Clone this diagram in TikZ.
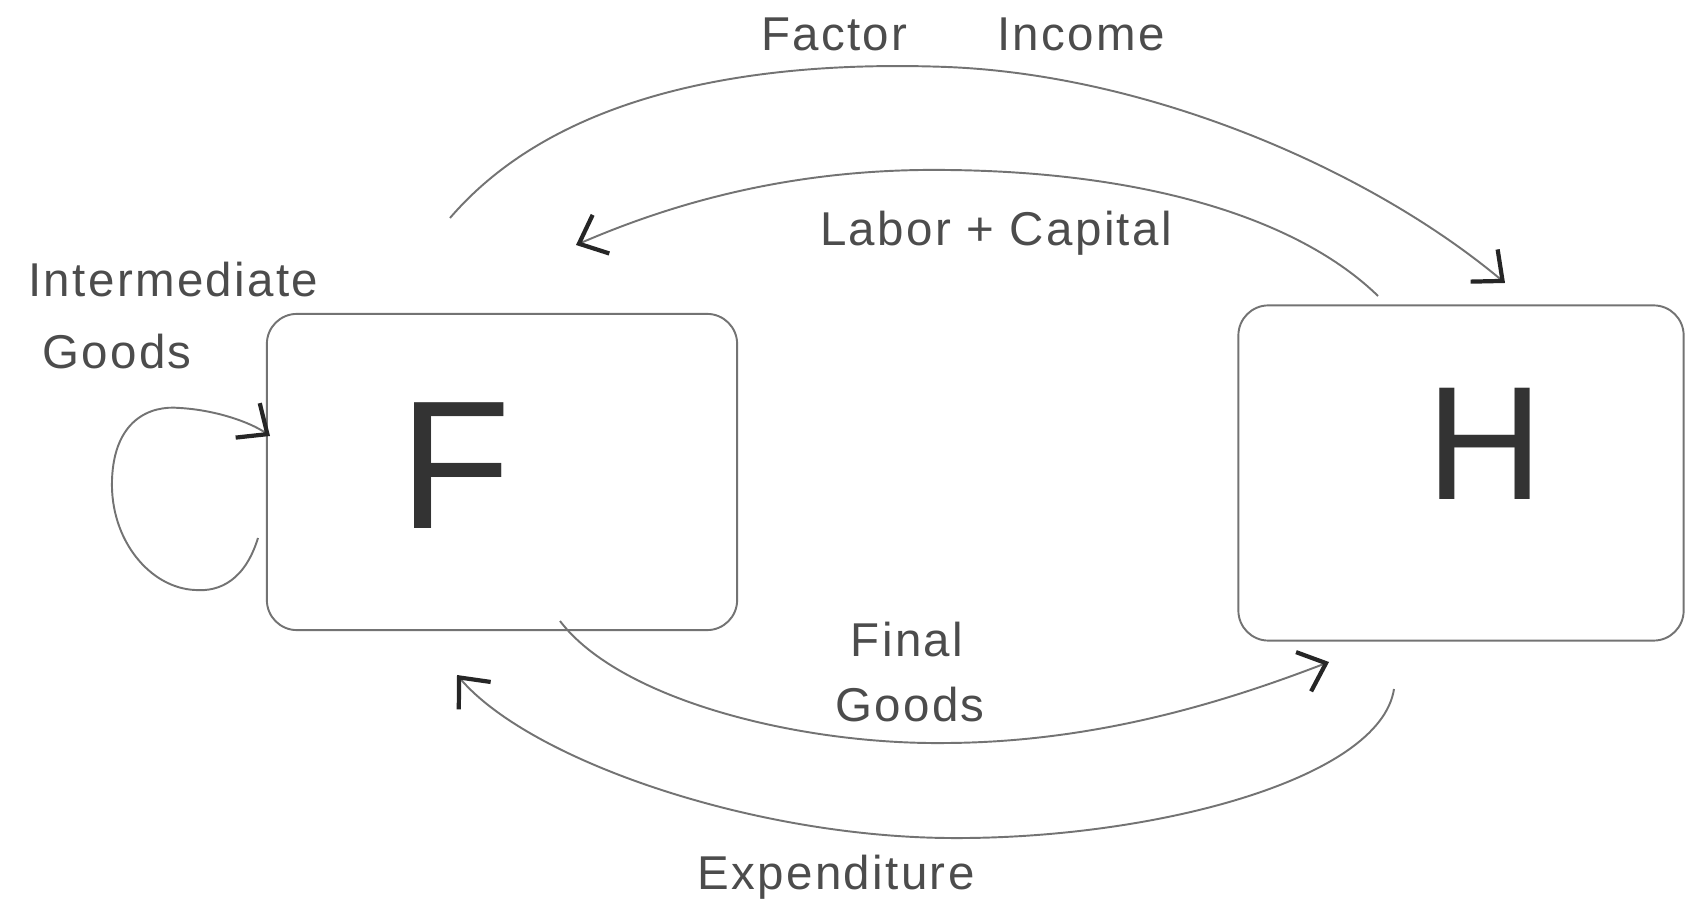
\documentclass[tikz,border=0pt]{standalone}
\usepackage{fontspec}
\setmainfont{Liberation Sans}
\usetikzlibrary{arrows.meta}
\newfontfamily\handfont[LetterSpace=5]{Liberation Sans}
\begin{document}
\begin{tikzpicture}[x=0.01cm,y=-0.01cm,
  pencil/.style={draw=black!55,line width=0.55pt},
  agent/.style={pencil,rounded corners=0.3cm,minimum width=4.7cm,minimum height=3.16cm},
  flow/.style={pencil,-{Straight Barb[length=2.4mm,width=4.2mm,line width=1.2pt,color=black!85]}},
  lbl/.style={text=black!70,font=\handfont\fontsize{13.5}{16}\selectfont},
  letter/.style={text=black!80,font=\fontsize{52}{56}\selectfont}]
\useasboundingbox (0,0) rectangle (1688,913);

% the two sectors
\node[agent] (F) at (502,472) {};
\node[agent,minimum width=4.45cm,minimum height=3.35cm] (H) at (1461,473) {};
\node[letter] (Fl) at (455,466) {F};
\node[letter,font=\fontsize{46}{50}\selectfont] (Hl) at (1485,444) {H};

% free ends of the flows
\coordinate (fiS) at (450,218);
\coordinate (fiE) at (1505,283);
\coordinate (lcS) at (1378,296);
\coordinate (lcE) at (576,245);
\coordinate (fgS) at (560,621);
\coordinate (fgE) at (1329,662);
\coordinate (exS) at (1394,689);
\coordinate (exE) at (457,675);
\coordinate (igS) at (258,538);
\coordinate (igE) at (270,436);

% factor income: F to H over the top
\draw[flow] (fiS) .. controls (560,90) and (760,60) .. (947,67)
  .. controls (1150,75) and (1370,170) .. (fiE);
% labour and capital: H back to F
\draw[flow] (lcS) .. controls (1300,220) and (1150,172) .. (947,170)
  .. controls (800,168) and (680,200) .. (lcE);
% final goods: F to H underneath
\draw[flow] (fgS) .. controls (620,700) and (800,745) .. (947,743)
  .. controls (1100,742) and (1230,700) .. (fgE);
% expenditure: H back to F
\draw[flow] (exS) .. controls (1380,780) and (1150,840) .. (947,838)
  .. controls (750,836) and (530,760) .. (exE);
% intermediate goods loop on F
\draw[flow] (igS) .. controls (245,580) and (220,592) .. (195,590)
  .. controls (150,588) and (110,540) .. (112,480)
  .. controls (114,420) and (150,405) .. (180,408)
  .. controls (215,410) and (250,422) .. (igE);

% labels
\node[lbl] (tFI) at (963,34) {Factor\hspace{0.9cm}Income};
\node[lbl] (tLC) at (996,233) {Labor + Capital};
\node[lbl] (tFG1) at (907,640) {Final};
\node[lbl] (tFG2) at (910,705) {Goods};
\node[lbl] (tEX) at (836,877) {Expenditure};
\node[lbl,anchor=west] (tIG1) at (16,280) {Intermediate};
\node[lbl,anchor=west] (tIG2) at (30,352) {Goods};
\end{tikzpicture}
\end{document}
